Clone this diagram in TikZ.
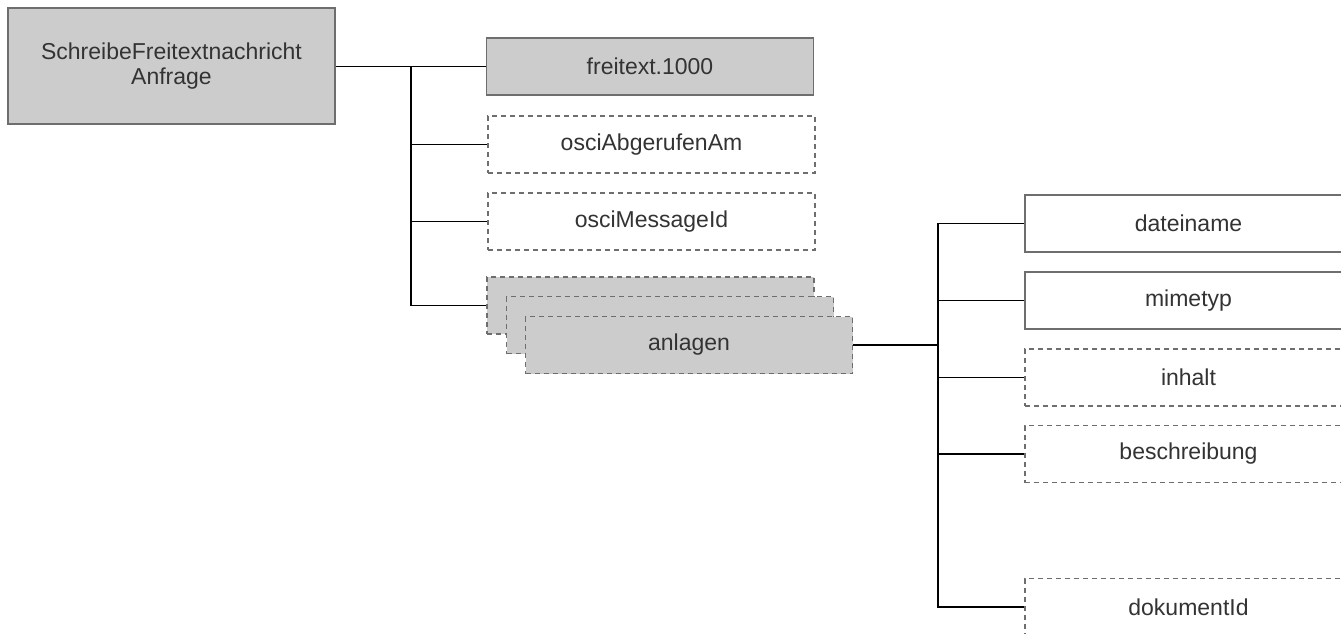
\documentclass[tikz,border=0pt]{standalone}
\usepackage{fontspec}
\setmainfont{Liberation Sans}
\definecolor{boxgray}{HTML}{CCCCCC}
\definecolor{edgegray}{HTML}{6E6E6E}
\definecolor{textgray}{HTML}{333333}
\begin{document}
\begin{tikzpicture}[
    x=1pt, y=-1pt,
    box/.style={draw=edgegray, line width=1.3pt, rectangle, fill=white, minimum width=327pt, minimum height=57pt, align=center, text=textgray, font=\fontsize{23}{25}\selectfont, inner sep=0pt},
    filled/.style={fill=boxgray},
    opt/.style={dash pattern=on 5pt off 4pt},
    link/.style={line width=1.7pt, black}
]
\clip (0,0) rectangle (1341,633);

% Root
\node[box, filled, minimum width=327pt, minimum height=116pt] (root) at (171.5, 66) {SchreibeFreitextnachricht\\Anfrage};

% First level
\node[box, filled] (freitext) at (650, 66.5) {freitext.1000};
\node[box, opt] (abgerufen) at (651.5, 144.5) {osciAbgerufenAm};
\node[box, opt] (messageid) at (651.5, 221.5) {osciMessageId};

% Stacked list
\node[box, opt, filled] (anlagenA) at (650.5, 305.5) {};
\node[box, opt, filled] (anlagenB) at (670, 325) {};
\node[box, opt, filled] (anlagen) at (689, 345) {anlagen};

% Second level
\node[box] (dateiname) at (1188.5, 223.5) {dateiname};
\node[box] (mimetyp) at (1188.5, 300.5) {mimetyp};
\node[box, opt] (inhalt) at (1188.5, 377.5) {inhalt};
\node[box, opt] (beschreibung) at (1188.5, 454) {beschreibung};
\node[box, opt] (dokumentid) at (1188.5, 607) {dokumentId};

% Trunks
\coordinate (trunkA) at (411, 66.5);
\coordinate (trunkB) at (938, 345);

% Connections
\draw[link] (root.east |- trunkA) -- (freitext.west);
\draw[link] (trunkA) |- (abgerufen.west);
\draw[link] (trunkA) |- (messageid.west);
\draw[link] (trunkA) |- (anlagenA.west);
\draw[link] (anlagen.east) -- (trunkB);
\draw[link] (trunkB) |- (dateiname.west);
\draw[link] (trunkB) |- (mimetyp.west);
\draw[link] (trunkB) |- (inhalt.west);
\draw[link] (trunkB) |- (beschreibung.west);
\draw[link] (trunkB) |- (dokumentid.west);

\end{tikzpicture}
\end{document}
